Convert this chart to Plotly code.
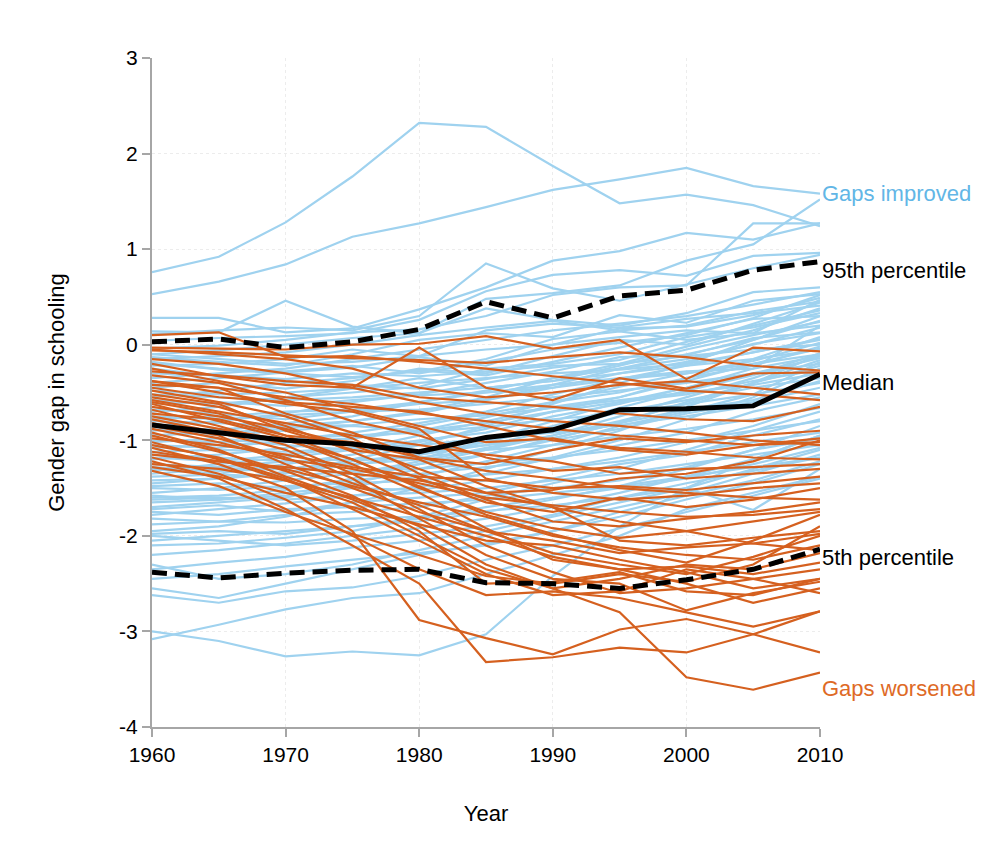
import plotly.graph_objects as go

years = [1960, 1965, 1970, 1975, 1980, 1985, 1990, 1995, 2000, 2005, 2010]

# countries where the gender gap improved
improved = [
    [0.76, 0.92, 1.28, 1.76, 2.32, 2.28, 1.87, 1.48, 1.57, 1.46, 1.24],
    [0.53, 0.66, 0.84, 1.13, 1.27, 1.44, 1.62, 1.73, 1.85, 1.66, 1.58],
    [0.28, 0.28, 0.13, 0.17, 0.37, 0.60, 0.88, 0.98, 1.17, 1.10, 1.27],
    [0.14, 0.13, 0.46, 0.19, 0.12, 0.48, 0.54, 0.62, 0.88, 1.05, 1.52],
    [0.11, 0.15, 0.18, 0.15, 0.30, 0.85, 0.59, 0.46, 0.63, 0.80, 0.94],
    [0.04, 0.07, 0.09, 0.12, 0.26, 0.56, 0.73, 0.78, 0.72, 0.93, 0.96],
    [-0.04, -0.01, 0.05, 0.13, 0.16, 0.30, 0.52, 0.60, 0.62, 1.27, 1.27],
    [-0.10, -0.06, 0.00, 0.07, 0.12, 0.38, 0.26, 0.20, 0.33, 0.55, 0.60],
    [-0.13, -0.18, -0.22, -0.10, 0.05, 0.12, 0.08, 0.31, 0.23, 0.46, 0.53],
    [-0.18, -0.26, -0.30, -0.34, -0.28, -0.15, 0.06, 0.14, 0.05, 0.12, 0.47],
    [-0.22, -0.20, -0.15, -0.05, -0.12, 0.15, 0.22, 0.18, 0.27, 0.33, 0.41],
    [-0.40, -0.35, -0.29, -0.24, -0.13, -0.22, 0.00, 0.17, 0.19, 0.31, 0.49],
    [-0.55, -0.48, -0.40, -0.35, -0.27, -0.32, -0.18, -0.03, 0.12, 0.27, 0.30],
    [-0.25, -0.33, -0.38, -0.42, -0.46, -0.36, -0.24, -0.16, 0.03, 0.20, 0.36],
    [-0.70, -0.65, -0.55, -0.46, -0.35, -0.45, -0.38, -0.22, -0.05, 0.10, 0.24],
    [-0.85, -0.80, -0.72, -0.60, -0.52, -0.40, -0.28, -0.13, -0.11, 0.07, 0.13],
    [-0.95, -0.92, -0.88, -0.80, -0.72, -0.58, -0.45, -0.30, -0.18, 0.01, 0.12],
    [-1.05, -1.08, -1.00, -0.92, -0.82, -0.70, -0.52, -0.36, -0.22, -0.08, 0.06],
    [-1.20, -1.15, -1.08, -0.98, -0.85, -0.72, -0.60, -0.44, -0.30, -0.17, 0.02],
    [-1.30, -1.35, -1.25, -1.15, -1.02, -0.88, -0.70, -0.55, -0.38, -0.20, -0.04],
    [-1.42, -1.40, -1.33, -1.26, -1.15, -1.02, -0.85, -0.66, -0.48, -0.32, -0.09],
    [-1.55, -1.50, -1.42, -1.35, -1.22, -1.08, -0.95, -0.80, -0.62, -0.40, -0.16],
    [-1.65, -1.62, -1.55, -1.48, -1.38, -1.22, -1.05, -0.85, -0.70, -0.52, -0.18],
    [-1.78, -1.72, -1.66, -1.58, -1.48, -1.35, -1.18, -1.00, -0.78, -0.55, -0.25],
    [-0.30, -0.32, -0.36, -0.30, -0.33, -0.28, -0.22, -0.20, -0.12, -0.05, 0.00],
    [-0.48, -0.52, -0.50, -0.46, -0.40, -0.35, -0.30, -0.26, -0.20, -0.08, 0.05],
    [-0.62, -0.60, -0.64, -0.58, -0.53, -0.50, -0.45, -0.36, -0.30, -0.20, -0.10],
    [-0.75, -0.78, -0.74, -0.70, -0.68, -0.62, -0.55, -0.48, -0.40, -0.30, -0.20],
    [-0.90, -0.88, -0.86, -0.84, -0.78, -0.74, -0.66, -0.58, -0.50, -0.42, -0.30],
    [-1.00, -1.02, -0.98, -0.95, -0.92, -0.86, -0.78, -0.72, -0.62, -0.52, -0.40],
    [-1.12, -1.10, -1.12, -1.08, -1.05, -0.98, -0.92, -0.84, -0.75, -0.64, -0.52],
    [-1.25, -1.28, -1.22, -1.20, -1.18, -1.10, -1.05, -0.96, -0.88, -0.78, -0.66],
    [-1.38, -1.36, -1.38, -1.32, -1.30, -1.24, -1.18, -1.10, -1.00, -0.90, -0.80],
    [-1.50, -1.52, -1.48, -1.45, -1.42, -1.36, -1.30, -1.22, -1.12, -1.02, -0.92],
    [-1.62, -1.60, -1.62, -1.58, -1.55, -1.50, -1.42, -1.35, -1.25, -1.15, -1.05],
    [-1.75, -1.78, -1.72, -1.70, -1.66, -1.62, -1.55, -1.48, -1.38, -1.28, -1.18],
    [-1.88, -1.85, -1.86, -1.82, -1.80, -1.74, -1.68, -1.60, -1.50, -1.73, -1.30],
    [-2.05, -2.00, -1.95, -1.90, -1.85, -1.75, -1.62, -1.48, -1.30, -1.10, -0.85],
    [-2.20, -2.15, -2.08, -2.00, -1.92, -1.82, -1.70, -1.55, -1.38, -1.20, -0.95],
    [-2.35, -2.28, -2.22, -2.12, -2.05, -1.95, -1.80, -1.65, -1.50, -1.30, -1.10],
    [-2.55, -2.65, -2.50, -2.35, -2.20, -2.08, -1.95, -1.80, -1.62, -1.45, -1.25],
    [-2.62, -2.70, -2.58, -2.54, -2.42, -2.25, -2.10, -1.92, -1.75, -1.58, -1.40],
    [-3.08, -2.93, -2.77, -2.65, -2.60, -2.40, -2.20, -2.00, -1.72, -1.55, -1.38],
    [-3.00, -3.10, -3.26, -3.21, -3.25, -3.03, -2.42, -1.90, -1.50, -1.20, -0.95],
    [-1.15, -1.18, -1.22, -1.25, -1.20, -1.00, -0.80, -0.60, -0.45, -0.25, 0.20],
    [-0.80, -0.82, -0.85, -0.80, -0.70, -0.55, -0.35, -0.20, -0.02, 0.15, 0.38],
    [-1.45, -1.40, -1.35, -1.20, -1.05, -0.85, -0.62, -0.40, -0.20, 0.05, 0.30],
    [-1.95, -1.90, -1.80, -1.65, -1.50, -1.30, -1.10, -0.90, -0.65, -0.40, -0.10],
    [-1.70, -1.65, -1.60, -1.45, -1.30, -1.15, -0.98, -0.82, -0.60, -0.40, -0.22],
    [-0.35, -0.30, -0.25, -0.15, -0.05, 0.05, 0.15, 0.22, 0.30, 0.42, 0.55],
    [-0.15, -0.12, -0.08, 0.00, 0.10, 0.18, 0.25, 0.15, 0.20, 0.35, 0.45],
    [-2.30, -2.45, -2.40, -2.30, -2.15, -2.00, -1.85, -1.70, -1.55, -1.35, -1.15],
    [-1.32, -1.25, -1.18, -1.10, -0.95, -0.80, -0.65, -0.55, -0.35, -0.15, 0.08],
    [-0.95, -0.90, -0.82, -0.75, -0.60, -0.48, -0.35, -0.25, -0.10, 0.05, 0.25],
    [-2.10, -2.08, -2.02, -1.95, -1.80, -1.62, -1.45, -1.30, -1.10, -0.90, -0.70],
    [-1.60, -1.58, -1.52, -1.40, -1.25, -1.10, -0.95, -0.75, -0.55, -0.35, -0.12],
    [-0.20, -0.25, -0.28, -0.22, -0.30, -0.18, -0.05, 0.02, 0.10, 0.28, 0.52],
    [-0.45, -0.40, -0.46, -0.38, -0.25, -0.30, -0.12, 0.05, 0.00, 0.22, 0.44],
    [-0.58, -0.62, -0.55, -0.50, -0.44, -0.25, -0.20, -0.10, 0.08, 0.18, 0.33],
    [-0.68, -0.72, -0.78, -0.70, -0.62, -0.58, -0.42, -0.25, -0.15, 0.00, 0.18],
    [-0.88, -0.95, -0.90, -0.85, -0.90, -0.76, -0.60, -0.50, -0.35, -0.22, -0.02],
    [-1.02, -0.98, -1.05, -1.10, -1.00, -0.92, -0.75, -0.62, -0.45, -0.30, -0.14],
    [-1.18, -1.22, -1.15, -1.08, -1.12, -1.05, -0.90, -0.70, -0.58, -0.45, -0.35],
    [-1.35, -1.30, -1.28, -1.35, -1.25, -1.15, -1.00, -0.88, -0.72, -0.60, -0.45],
    [-1.48, -1.45, -1.50, -1.42, -1.35, -1.28, -1.20, -1.05, -0.92, -0.70, -0.55],
    [-1.58, -1.62, -1.58, -1.50, -1.52, -1.42, -1.30, -1.18, -1.02, -0.85, -0.62],
    [-1.72, -1.68, -1.75, -1.65, -1.60, -1.55, -1.40, -1.25, -1.15, -0.95, -0.78],
    [-1.82, -1.85, -1.78, -1.75, -1.70, -1.58, -1.50, -1.42, -1.28, -1.10, -0.98],
    [-1.98, -1.95, -1.98, -1.90, -1.82, -1.70, -1.60, -1.50, -1.40, -1.25, -1.08],
    [-0.10, -0.15, -0.20, -0.18, -0.12, -0.05, 0.00, 0.08, 0.15, 0.12, 0.20],
    [-0.52, -0.55, -0.58, -0.55, -0.50, -0.45, -0.38, -0.30, -0.22, -0.15, -0.05],
    [-0.78, -0.75, -0.70, -0.68, -0.60, -0.50, -0.42, -0.35, -0.28, -0.25, -0.12],
    [-1.08, -1.05, -1.02, -0.98, -0.90, -0.82, -0.70, -0.60, -0.52, -0.38, -0.26],
    [-1.28, -1.32, -1.30, -1.22, -1.15, -1.05, -0.98, -0.82, -0.68, -0.58, -0.38],
    [-2.45, -2.40, -2.32, -2.25, -2.18, -2.10, -1.95, -1.75, -1.58, -1.42, -1.22],
    [-2.00, -2.05, -2.10, -2.05, -1.98, -1.90, -1.78, -1.60, -1.45, -1.32, -1.18],
]

# countries where the gap worsened
worsened = [
    [0.10, 0.13, -0.13, -0.12, -0.18, -0.25, -0.33, -0.40, -0.48, -0.52, -0.58],
    [-0.03, -0.04, -0.05, 0.00, 0.01, 0.09, -0.04, 0.05, -0.36, -0.03, -0.07],
    [-0.06, -0.08, -0.11, -0.14, -0.16, -0.19, -0.13, -0.08, -0.13, -0.22, -0.27],
    [-0.20, -0.33, -0.42, -0.45, -0.03, -0.45, -0.58, -0.35, -0.46, -0.30, -0.29],
    [-0.25, -0.38, -0.50, -0.68, -0.85, -1.02, -0.98, -1.10, -1.15, -1.05, -1.02],
    [-0.32, -0.40, -0.58, -0.80, -0.95, -1.18, -1.32, -1.28, -1.40, -1.35, -1.30],
    [-0.38, -0.50, -0.62, -0.70, -0.88, -1.40, -1.55, -1.62, -1.58, -1.50, -1.45],
    [-0.42, -0.45, -0.72, -0.92, -1.18, -1.25, -1.10, -0.98, -1.02, -0.95, -0.90],
    [-0.48, -0.60, -0.75, -0.98, -1.35, -1.62, -1.85, -1.90, -1.82, -1.75, -1.65],
    [-0.52, -0.62, -0.90, -1.10, -1.20, -1.48, -1.70, -2.05, -2.10, -2.02, -1.95],
    [-0.58, -0.70, -0.82, -0.95, -1.05, -1.15, -1.22, -1.35, -1.30, -1.28, -1.25],
    [-0.62, -0.80, -0.98, -1.25, -1.55, -1.92, -2.25, -2.35, -2.32, -2.40, -2.28],
    [-0.68, -0.85, -1.05, -1.35, -1.72, -2.10, -2.38, -2.60, -2.55, -2.45, -2.35],
    [-0.72, -0.78, -0.95, -1.02, -1.18, -1.32, -1.40, -1.50, -1.55, -1.60, -1.62],
    [-0.78, -0.92, -1.10, -1.40, -1.82, -2.20, -2.45, -2.50, -2.78, -2.60, -2.48],
    [-0.82, -0.95, -1.25, -1.50, -1.75, -1.95, -2.05, -2.18, -2.12, -2.08, -1.98],
    [-0.88, -1.02, -1.20, -1.30, -1.45, -1.60, -1.68, -1.75, -1.80, -1.78, -1.72],
    [-0.92, -1.10, -1.38, -1.62, -1.90, -2.30, -2.55, -2.80, -3.48, -3.61, -3.43],
    [-0.98, -1.05, -1.15, -1.28, -1.38, -1.42, -1.50, -1.48, -1.52, -1.45, -1.38],
    [-1.02, -1.20, -1.42, -1.65, -2.00, -2.35, -2.55, -2.45, -2.30, -2.35, -2.18],
    [-1.08, -1.25, -1.50, -1.95, -2.88, -3.07, -3.24, -2.98, -2.87, -3.03, -3.22],
    [-1.12, -1.22, -1.30, -1.48, -1.65, -1.80, -2.00, -2.12, -2.20, -2.25, -2.10],
    [-1.18, -1.35, -1.62, -2.00, -2.35, -2.62, -2.58, -2.65, -2.80, -2.95, -2.79],
    [-1.22, -1.40, -1.72, -2.10, -2.50, -3.32, -3.27, -3.17, -3.22, -3.03, -2.79],
    [-1.28, -1.38, -1.55, -1.70, -1.88, -2.05, -2.10, -2.25, -2.38, -2.55, -2.45],
    [-1.32, -1.48, -1.75, -1.98, -2.20, -2.42, -2.50, -2.40, -2.48, -2.30, -1.90],
    [-0.15, -0.20, -0.30, -0.45, -0.60, -0.72, -0.80, -0.85, -0.92, -1.00, -1.05],
    [-0.45, -0.55, -0.60, -0.65, -0.70, -0.85, -1.00, -1.08, -1.12, -1.18, -1.20],
    [-0.55, -0.65, -0.85, -1.12, -1.40, -1.65, -1.75, -1.60, -1.70, -1.62, -1.50],
    [-0.65, -0.75, -0.88, -1.05, -1.30, -1.55, -1.52, -1.40, -1.35, -1.22, -1.00],
    [-0.75, -0.88, -1.00, -1.20, -1.48, -1.78, -1.98, -2.15, -2.28, -2.05, -1.78],
    [-0.85, -0.98, -1.18, -1.45, -1.68, -1.95, -2.18, -2.30, -2.40, -2.22, -2.00],
    [-0.95, -1.12, -1.32, -1.58, -1.95, -2.50, -2.48, -2.38, -2.58, -2.62, -2.45],
    [-1.05, -1.18, -1.40, -1.72, -2.05, -2.40, -2.62, -2.58, -2.35, -2.45, -2.60],
    [-0.28, -0.32, -0.38, -0.42, -0.55, -0.60, -0.65, -0.72, -0.78, -0.80, -0.65],
    [-0.38, -0.45, -0.55, -0.62, -0.72, -0.80, -0.88, -0.95, -1.00, -1.05, -0.98],
    [-1.15, -1.22, -1.28, -1.35, -1.42, -1.55, -1.70, -1.85, -1.95, -2.08, -2.15],
    [-1.25, -1.30, -1.42, -1.60, -1.80, -2.00, -2.22, -2.35, -2.50, -2.70, -2.55],
    [-0.05, -0.10, -0.15, -0.25, -0.45, -0.55, -0.50, -0.42, -0.38, -0.45, -0.52],
    [-0.60, -0.72, -0.95, -1.20, -1.50, -1.75, -1.92, -2.02, -1.95, -1.85, -1.75],
]

median = [-0.84, -0.92, -1.00, -1.04, -1.12, -0.97, -0.89, -0.68, -0.67, -0.64, -0.31]
p95 = [0.03, 0.06, -0.03, 0.03, 0.16, 0.45, 0.28, 0.51, 0.57, 0.78, 0.87]
p5 = [-2.38, -2.44, -2.39, -2.36, -2.35, -2.49, -2.50, -2.55, -2.46, -2.35, -2.14]

y_ticks = [-4, -3, -2, -1, 0, 1, 2, 3]
y_tick_text = ['-4', '-3', '-2', '-1', '0', '1', '2', '3']
x_ticks = [1960, 1970, 1980, 1990, 2000, 2010]

BLUE = '#9fd2ef'
ORANGE = '#d5601f'
FONT = 'Liberation Sans, Arial, sans-serif'

fig = go.Figure()

for row in improved:
    fig.add_trace(go.Scatter(x=years, y=row, mode='lines',
                             line=dict(color=BLUE, width=2.2), hoverinfo='skip'))
for row in worsened:
    fig.add_trace(go.Scatter(x=years, y=row, mode='lines',
                             line=dict(color=ORANGE, width=2.2), hoverinfo='skip'))

fig.add_trace(go.Scatter(x=years, y=p95, mode='lines',
                         line=dict(color='black', width=5, dash='15px,8px')))
fig.add_trace(go.Scatter(x=years, y=p5, mode='lines',
                         line=dict(color='black', width=5, dash='15px,8px')))
fig.add_trace(go.Scatter(x=years, y=median, mode='lines',
                         line=dict(color='black', width=5)))

labels = [
    (1.58, 'Gaps improved', '#62b6e6'),
    (0.78, '95th percentile', 'black'),
    (-0.40, 'Median', 'black'),
    (-2.23, '5th percentile', 'black'),
    (-3.60, 'Gaps worsened', '#de6a26'),
]
for y, text, color in labels:
    fig.add_annotation(x=2010, y=y, text=text, showarrow=False,
                       xanchor='left', yanchor='middle', xshift=0,
                       font=dict(size=22, color=color, family=FONT))

axis_style = dict(
    showline=True, linecolor='#a6a6a6', linewidth=2,
    ticks='outside', tickcolor='#a6a6a6', ticklen=8, tickwidth=2,
    showgrid=True, gridcolor='#ececec', griddash='dot', gridwidth=1,
    zeroline=False,
    tickfont=dict(size=21, color='black', family=FONT),
)

fig.update_layout(
    width=1000, height=860,
    plot_bgcolor='white', paper_bgcolor='white',
    showlegend=False,
    margin=dict(l=144, r=188, t=50, b=141),
    font=dict(family=FONT, color='black'),
    xaxis=dict(range=[1960, 2010], tickvals=x_ticks,
               title=dict(text='Year', font=dict(size=22), standoff=40),
               **axis_style),
    yaxis=dict(range=[-4, 3], tickvals=y_ticks, ticktext=y_tick_text,
               title=dict(text='Gender gap in schooling', font=dict(size=22), standoff=48),
               **axis_style),
)

fig.write_html("out.html")
